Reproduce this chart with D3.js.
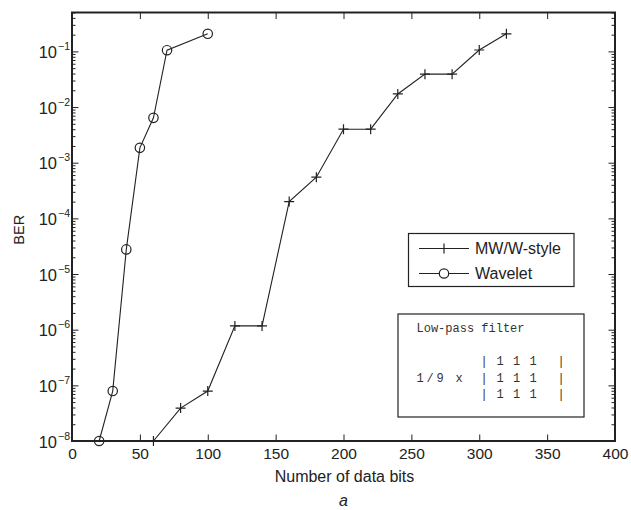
<!DOCTYPE html>
<html>
<head>
<meta charset="utf-8">
<script src="https://cdn.jsdelivr.net/npm/d3@7"></script>
<style>
  html, body { margin: 0; padding: 0; background: #fff; }
  svg { display: block; }
</style>
</head>
<body>
<svg id="chart" width="631" height="510"></svg>
<script>
// ---- data ----
const mwBits = [60, 80, 100, 120, 140, 160, 180, 200, 220, 240, 260, 280, 300, 320];
const mwBER  = [1e-8, 3.9e-8, 7.9e-8, 1.17e-6, 1.17e-6, 2.0e-4, 5.5e-4, 4.0e-3, 4.0e-3, 1.72e-2, 3.9e-2, 3.9e-2, 0.106, 0.207];
const wvBits = [20, 30, 40, 50, 60, 70, 100];
const wvBER  = [1e-8, 7.9e-8, 2.77e-5, 1.85e-3, 6.4e-3, 0.105, 0.207];
const xTicks = [0, 50, 100, 150, 200, 250, 300, 350, 400];
const yExponents = [-8, -7, -6, -5, -4, -3, -2, -1];
const seriesNames = ["MW/W-style", "Wavelet"];
const xLabel = "Number of data bits";
const yLabel = "BER";
const caption = "a";
const boxTitle = "Low-pass filter";

// ---- layout ----
const svg = d3.select("#chart");
const L = 72, R = 615, T = 12.5, B = 441;
const ink = "#222";
const sans = "'Liberation Sans', Arial, Helvetica, sans-serif";
const mono = "'Liberation Mono', 'Courier New', monospace";

const x = d3.scaleLinear().domain([0, 400]).range([L, R]);
const y = d3.scaleLog().domain([1e-8, 0.5]).range([B, T]);

const majorY = yExponents.map(e => Math.pow(10, e));
const minorY = [];
yExponents.forEach(e => { for (let m = 2; m <= 9; m++) { const v = m * Math.pow(10, e); if (v <= 0.5) minorY.push(v); } });

const minorSize = 3.5, majorSize = 6.5;
const axisStyle = g => { g.select(".domain").remove(); g.selectAll("line").attr("stroke", ink).attr("stroke-width", 1); };

svg.append("g").attr("transform", `translate(${L},0)`)
  .call(d3.axisLeft(y).tickValues(minorY).tickSize(-minorSize).tickFormat(""))
  .call(axisStyle);
svg.append("g").attr("transform", `translate(${R},0)`)
  .call(d3.axisRight(y).tickValues(minorY).tickSize(-minorSize).tickFormat(""))
  .call(axisStyle);

const yAxisL = svg.append("g").attr("transform", `translate(${L},0)`)
  .call(d3.axisLeft(y).tickValues(majorY).tickSizeInner(-majorSize).tickSizeOuter(0).tickPadding(2).tickFormat(""))
  .call(axisStyle);
yAxisL.selectAll(".tick text").each(function(d) {
  const t = d3.select(this).attr("dy", "0.38em").style("font-family", sans).style("font-size", "16.5px").attr("fill", ink);
  t.append("tspan").text("10");
  t.append("tspan").attr("dx", 1).attr("dy", -8).style("font-size", "10.5px").text("\u2212" + Math.abs(Math.round(Math.log10(d))));
});
svg.append("g").attr("transform", `translate(${R},0)`)
  .call(d3.axisRight(y).tickValues(majorY).tickSizeInner(-majorSize).tickSizeOuter(0).tickFormat(""))
  .call(axisStyle);

svg.append("g").attr("transform", `translate(0,${B})`)
  .call(d3.axisBottom(x).tickValues(xTicks).tickSizeInner(-majorSize).tickSizeOuter(0).tickPadding(7).tickFormat(d3.format("d")))
  .call(axisStyle)
  .call(g => g.selectAll("text").style("font-size", "15.5px").attr("fill", ink).style("font-family", sans));
svg.append("g").attr("transform", `translate(0,${T})`)
  .call(d3.axisTop(x).tickValues(xTicks).tickSizeInner(-majorSize).tickSizeOuter(0).tickFormat(""))
  .call(axisStyle);

svg.append("rect").attr("x", L).attr("y", T).attr("width", R - L).attr("height", B - T)
  .attr("fill", "none").attr("stroke", ink).attr("stroke-width", 2);

// ---- series ----
const line = d3.line().x(d => x(d[0])).y(d => y(d[1]));
const mwData = mwBits.map((b, i) => [b, mwBER[i]]);
const wvData = wvBits.map((b, i) => [b, wvBER[i]]);

svg.append("path").datum(mwData).attr("d", line).attr("fill", "none").attr("stroke", ink).attr("stroke-width", 1.1);
svg.append("path").datum(wvData).attr("d", line).attr("fill", "none").attr("stroke", ink).attr("stroke-width", 1.1);

const plusPath = s => `M${-s},0H${s}M0,${-s}V${s}`;
svg.append("g").selectAll("path").data(mwData).join("path")
  .attr("transform", d => `translate(${x(d[0])},${y(d[1])})`)
  .attr("d", plusPath(5)).attr("stroke", ink).attr("stroke-width", 1.2).attr("fill", "none");
svg.append("g").selectAll("circle").data(wvData).join("circle")
  .attr("cx", d => x(d[0])).attr("cy", d => y(d[1])).attr("r", 4.7)
  .attr("fill", "none").attr("stroke", ink).attr("stroke-width", 1.2);

// ---- axis labels ----
const txt = (sel) => sel.style("font-family", sans).attr("fill", ink);
svg.append("text").attr("x", (L + R) / 2 + 1).attr("y", 482).attr("text-anchor", "middle")
  .style("font-size", "16px").call(txt).text(xLabel);
svg.append("text").attr("transform", `translate(24,${(T + B) / 2 + 3}) rotate(-90)`).attr("text-anchor", "middle")
  .style("font-size", "14.5px").call(txt).text(yLabel);
svg.append("text").attr("x", (L + R) / 2).attr("y", 506).attr("text-anchor", "middle")
  .style("font-size", "16px").style("font-style", "italic").call(txt).text(caption);

// ---- legend ----
const lg = svg.append("g");
lg.append("rect").attr("x", 408.5).attr("y", 233.5).attr("width", 165.5).attr("height", 53)
  .attr("fill", "#fff").attr("stroke", ink).attr("stroke-width", 1.2);
seriesNames.forEach((name, i) => {
  const ly = 248.5 + i * 25;
  lg.append("line").attr("x1", 419).attr("x2", 469).attr("y1", ly).attr("y2", ly).attr("stroke", ink).attr("stroke-width", 1.1);
  if (i === 0) {
    lg.append("path").attr("transform", `translate(444,${ly})`).attr("d", plusPath(5)).attr("stroke", ink).attr("stroke-width", 1.2);
  } else {
    lg.append("circle").attr("cx", 444).attr("cy", ly).attr("r", 4.7).attr("fill", "#fff").attr("stroke", ink).attr("stroke-width", 1.2);
  }
  lg.append("text").attr("x", 475).attr("y", ly + 5.5).style("font-size", "16px").call(txt).text(name);
});

// ---- annotation box ----
const tb = svg.append("g");
tb.append("rect").attr("x", 398).attr("y", 314).attr("width", 186).attr("height", 103)
  .attr("fill", "#fff").attr("stroke", ink).attr("stroke-width", 1.2);
tb.append("text").attr("x", 416.5).attr("y", 331.5).style("font-family", mono).style("font-size", "12px")
  .attr("fill", "#333").text(boxTitle);
const rowY = [365, 381.5, 397.5];
const tokenX = { one: 420, slash: 430, nine: 440, times: 459, barL: 484, c1: 500, c2: 516.5, c3: 533, barR: 561 };
const addTok = (tx, ty, s) => tb.append("text").attr("x", tx).attr("y", ty).attr("text-anchor", "middle")
  .style("font-family", mono).style("font-size", "12px").attr("fill", "#333").text(s);
addTok(tokenX.one, rowY[1], "1");
addTok(tokenX.slash, rowY[1], "/");
addTok(tokenX.nine, rowY[1], "9");
addTok(tokenX.times, rowY[1], "x");
rowY.forEach(ry => {
  addTok(tokenX.barL, ry, "|");
  addTok(tokenX.c1, ry, "1");
  addTok(tokenX.c2, ry, "1");
  addTok(tokenX.c3, ry, "1");
  addTok(tokenX.barR, ry, "|");
});
</script>
</body>
</html>
